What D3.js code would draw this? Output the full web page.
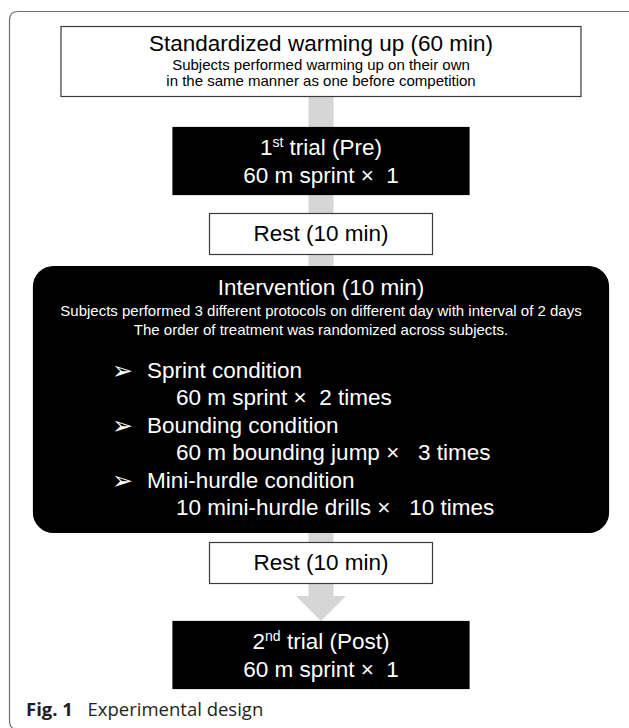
<!DOCTYPE html>
<html>
<head>
<meta charset="utf-8">
<script src="https://cdn.jsdelivr.net/npm/d3@7"></script>
<style>
  body { margin: 0; background: #fff; }
  text { white-space: pre; }
</style>
</head>
<body>
<div id="chart"></div>
<script>
// flow steps of the study design
const headerTitle = "Standardized warming up (60 min)";
const headerNotes = ["Subjects performed warming up on their own", "in the same manner as one before competition"];
const trialNumbers = ["1", "2"];
const trialSuffixes = ["st", "nd"];
const trialPhases = ["Pre", "Post"];
const trialTask = "60 m sprint \u00d7  1";
const restLabel = "Rest (10 min)";
const interventionTitle = "Intervention (10 min)";
const interventionNotes = [
    "Subjects performed 3 different protocols on different day with interval of 2 days",
    "The order of treatment was randomized across subjects."
];
const conditions = ["Sprint condition", "Bounding condition", "Mini-hurdle condition"];
const conditionTasks = ["60 m sprint \u00d7  2 times", "60 m bounding jump \u00d7   3 times", "10 mini-hurdle drills \u00d7   10 times"];
const stageKinds = ["header", "trial", "rest", "intervention", "rest", "trial"];

let width = 629,
    height = 728,
    cx = 321;

// vertical extent of each stage, top to bottom
const y = d3.scaleLinear().domain([0, height]).range([0, height]);
const stageTop = [26, 127, 213, 266, 542, 621];
const stageBottom = [96, 194, 254, 532, 583, 688];
const halfWidth = { header: 260, trial: 148, rest: 111.5, intervention: 287.5 };

const font = "'Liberation Sans', Arial, sans-serif";

var svg = d3.select("#chart").append("svg")
    .attr("width", width)
    .attr("height", height);

// outer figure frame
svg.append("path")
    .attr("d", "M629,11.5 H18 Q9.5,11.5 9.5,20 V720 Q9.5,727 13,728")
    .attr("fill", "none")
    .attr("stroke", "#6e6e6e")
    .attr("stroke-width", 1.2);

// grey flow arrow behind the boxes
const arrowTop = y(stageBottom[0]);
const headTop = y(596), headTip = y(stageTop[5]);
svg.append("rect")
    .attr("x", cx - 12.5)
    .attr("y", arrowTop)
    .attr("width", 25)
    .attr("height", headTop - arrowTop + 1)
    .attr("fill", "#d6d6d6");
svg.append("path")
    .attr("d", `M${cx - 25},${headTop} L${cx + 25},${headTop} L${cx},${headTip} Z`)
    .attr("fill", "#d6d6d6");

const stages = svg.selectAll("g.stage")
    .data(stageKinds)
    .enter()
    .append("g")
    .attr("class", "stage");

stages.append("rect")
    .attr("x", d => cx - halfWidth[d])
    .attr("y", (d, i) => y(stageTop[i]) + 0.5)
    .attr("width", d => halfWidth[d] * 2)
    .attr("height", (d, i) => y(stageBottom[i]) - y(stageTop[i]))
    .attr("rx", d => d === "intervention" ? 20 : 0)
    .attr("fill", d => (d === "trial" || d === "intervention") ? "#000" : "#fff")
    .attr("stroke", d => (d === "trial" || d === "intervention") ? "#000" : "#3a3a3a")
    .attr("stroke-width", 1.2);

// header text
const header = stages.filter(d => d === "header");
header.append("text")
    .attr("x", cx)
    .attr("y", y(51))
    .attr("text-anchor", "middle")
    .style("font-family", font)
    .style("font-size", "22.5px")
    .text(headerTitle);
header.selectAll("text.note")
    .data(headerNotes)
    .enter()
    .append("text")
    .attr("class", "note")
    .attr("x", cx)
    .attr("y", (d, i) => y(70 + i * 16))
    .attr("text-anchor", "middle")
    .style("font-family", font)
    .style("font-size", "15px")
    .text(d => d);

// trial boxes (stage index 1 and 5)
const trialIdx = stageKinds.map((d, i) => d === "trial" ? i : -1).filter(i => i >= 0);
stages.filter(d => d === "trial").each(function(d, k) {
    const g = d3.select(this);
    const top = y(stageTop[trialIdx[k]]);
    const t = g.append("text")
        .attr("x", cx)
        .attr("y", top + 28)
        .attr("text-anchor", "middle")
        .attr("fill", "#fff")
        .style("font-family", font)
        .style("font-size", "22.5px");
    t.append("tspan").text(trialNumbers[k]);
    t.append("tspan").attr("dy", -8).style("font-size", "14px").text(trialSuffixes[k]);
    t.append("tspan").attr("dy", 8).text(" trial (" + trialPhases[k] + ")");
    g.append("text")
        .attr("x", cx)
        .attr("y", top + 56)
        .attr("text-anchor", "middle")
        .attr("fill", "#fff")
        .style("font-family", font)
        .style("font-size", "22.5px")
        .text(trialTask);
});

// rest boxes (stage index 2 and 4)
const restIdx = stageKinds.map((d, i) => d === "rest" ? i : -1).filter(i => i >= 0);
stages.filter(d => d === "rest")
    .append("text")
    .attr("x", cx)
    .attr("y", (d, k) => (y(stageTop[restIdx[k]]) + y(stageBottom[restIdx[k]])) / 2 + 7.5)
    .attr("text-anchor", "middle")
    .style("font-family", font)
    .style("font-size", "22.5px")
    .text(restLabel);

// intervention block
const inter = stages.filter(d => d === "intervention");
inter.append("text")
    .attr("x", cx)
    .attr("y", y(295))
    .attr("text-anchor", "middle")
    .attr("fill", "#fff")
    .style("font-family", font)
    .style("font-size", "22.5px")
    .text(interventionTitle);
inter.selectAll("text.note")
    .data(interventionNotes)
    .enter()
    .append("text")
    .attr("class", "note")
    .attr("x", cx)
    .attr("y", (d, i) => y(316 + i * 19))
    .attr("text-anchor", "middle")
    .attr("fill", "#fff")
    .style("font-family", font)
    .style("font-size", "15px")
    .text(d => d);

const rowStep = 27.4;
const items = inter.selectAll("g.item")
    .data(conditions)
    .enter()
    .append("g")
    .attr("class", "item");
items.append("text")
    .attr("x", 112)
    .attr("y", (d, i) => y(379 + i * 2 * rowStep))
    .attr("fill", "#fff")
    .style("font-family", "'DejaVu Sans', sans-serif")
    .style("font-size", "25px")
    .text("\u27a2");
items.append("text")
    .attr("x", 147)
    .attr("y", (d, i) => y(378 + i * 2 * rowStep))
    .attr("fill", "#fff")
    .style("font-family", font)
    .style("font-size", "22.5px")
    .text(d => d);
items.append("text")
    .attr("x", 176)
    .attr("y", (d, i) => y(378 + (i * 2 + 1) * rowStep))
    .attr("fill", "#fff")
    .style("font-family", font)
    .style("font-size", "22.5px")
    .text((d, i) => conditionTasks[i]);

// caption
const cap = svg.append("text")
    .attr("x", 26)
    .attr("y", y(716))
    .attr("fill", "#231f20")
    .style("font-family", "'Open Sans', 'Noto Sans', sans-serif")
    .style("font-size", "18.5px");
cap.append("tspan").style("font-weight", "bold").text("Fig. 1");
cap.append("tspan").attr("dx", 5).text("  Experimental design");
</script>
</body>
</html>
